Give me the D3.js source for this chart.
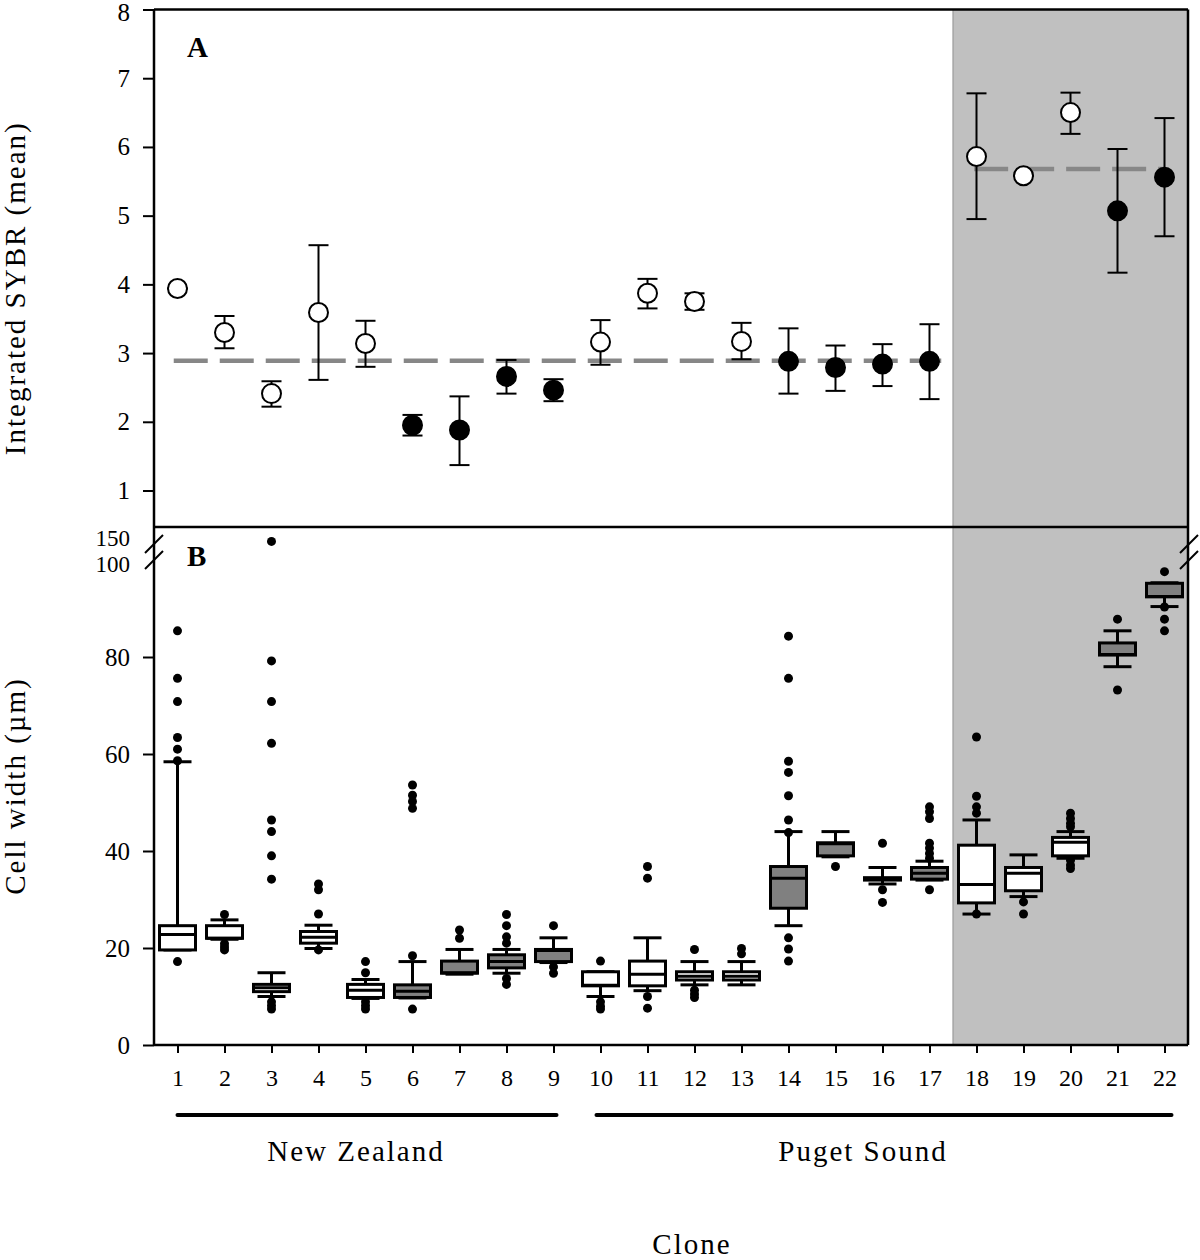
<!DOCTYPE html>
<html>
<head>
<meta charset="utf-8">
<script src="https://cdn.jsdelivr.net/npm/d3@7"></script>
<style>
  html, body { margin: 0; padding: 0; background: #fff; }
  svg { display: block; }
  text { font-family: "Liberation Serif", "Times New Roman", serif; fill: #000; }
</style>
</head>
<body>
<svg id="chart" width="1200" height="1260"></svg>
<script>
// ---------------- DATA ----------------
const clones = d3.range(1, 23);
// marker style per clone: open (white) or filled (black / gray boxes)
const markerType = ["open","open","open","open","open","filled","filled","filled","filled",
  "open","open","open","open","filled","filled","filled","filled","open","open","open","filled","filled"];

// Panel A: integrated SYBR (mean) with error bar limits
const sybrMean  = [3.94,3.30,2.41,3.59,3.14,1.95,1.88,2.66,2.46,3.16,3.87,3.75,3.17,2.88,2.79,2.84,2.88,5.86,5.58,6.50,5.07,5.56];
const sybrUpper = [3.94,3.54,2.59,4.57,3.47,2.10,2.37,2.90,2.62,3.48,4.08,3.87,3.44,3.36,3.11,3.13,3.42,6.78,5.58,6.79,5.97,6.42];
const sybrLower = [3.94,3.07,2.22,2.61,2.80,1.80,1.37,2.41,2.30,2.83,3.65,3.63,2.91,2.41,2.45,2.52,2.33,4.95,5.58,6.19,4.17,4.70];
// group means (dashed lines): value, first and last clone position
const meanLineValue = [2.89, 5.68];
const meanLineFrom  = [0.92, 17.95];
const meanLineTo    = [17.25, 22.0];

// Panel B: cell width box plots
const boxQ1    = [19.6,22.0,11.0,21.0, 9.8, 9.8,14.8,15.9,17.2,12.2,12.2,13.4,13.4,28.2,39.0,34.0,34.2,29.3,31.8,39.0,80.4,92.4];
const boxMed   = [22.8,22.0,11.8,22.2,11.3,11.1,14.9,17.2,19.5,12.3,14.6,14.2,14.2,34.4,41.5,34.3,35.4,33.1,35.4,41.8,80.5,92.5];
const boxQ3    = [24.6,24.6,12.5,23.4,12.5,12.4,17.3,18.6,19.7,15.1,17.3,15.1,15.1,36.8,41.7,34.5,36.6,41.2,36.6,42.8,82.9,95.2];
const whiskLo  = [19.6,21.8,10.0,19.9, 9.6, 9.7,14.6,14.8,17.0,10.0,11.2,12.4,12.4,24.6,38.8,33.2,34.0,27.0,30.6,38.5,78.0,90.4];
const whiskHi  = [58.4,25.8,14.9,24.7,13.5,17.2,19.7,19.7,22.1,15.1,22.1,17.2,17.2,44.0,44.0,36.6,37.9,46.4,39.2,44.0,85.4,95.3];
const outliers = [
  [85.4,75.6,70.8,63.4,61.0,58.6,17.2],
  [26.9,20.9,20.2,19.6],
  [149,79.2,70.8,62.2,46.4,44.0,39.0,34.2,8.9,8.1,7.4],
  [33.2,32.0,27.0,19.6],
  [17.2,14.9,8.9,8.1,7.4],
  [53.6,51.5,50.2,48.8,18.4,7.4],
  [23.7,22.0],
  [26.9,24.6,22.3,21.0,13.7,12.5],
  [24.6,16.1,14.8],
  [17.3,8.9,8.0,7.4],
  [36.8,34.4,10.0,7.6],
  [19.7,11.3,10.5,9.8],
  [19.9,18.8],
  [84.3,75.6,58.5,56.2,51.4,46.4,43.8,22.1,19.8,17.3],
  [36.8],
  [41.6,32.0,29.4],
  [49.1,48.1,46.7,41.6,40.6,39.5,38.5,32.0],
  [63.5,51.3,49.1,47.8,27.0],
  [29.5,27.0],
  [47.8,46.7,45.7,45.0,38.1,37.1,36.4],
  [87.8,73.2],
  [97.6,90.3,87.8,85.4]
];

const ticksA = [1,2,3,4,5,6,7,8];
const ticksB = [0,20,40,60,80,100,150];
const regionNames = ["New Zealand", "Puget Sound"];
const regionFrom = [1, 10];
const regionTo = [9, 22];
const shadeFrom = 17.5;

// ---------------- LAYOUT ----------------
const svg = d3.select("#chart");
const L = 154, R = 1188, TOP = 9.5, MID = 527, BOT = 1045;

const x = d3.scaleLinear().domain([0.5, 22.5]).range([L, R]);
const yA = d3.scaleLinear().domain([0.469, 8]).range([MID, TOP]);
const yB = d3.scaleLinear().domain([0, 100, 150, 185]).range([BOT, 560, 541, MID]);

// shaded region
svg.append("rect")
  .attr("x", x(shadeFrom)).attr("y", TOP)
  .attr("width", R - x(shadeFrom)).attr("height", BOT - TOP)
  .attr("fill", "#c0c0c0");
svg.append("line")
  .attr("x1", x(shadeFrom)).attr("x2", x(shadeFrom))
  .attr("y1", TOP).attr("y2", BOT)
  .attr("stroke", "#9a9a9a").attr("stroke-width", 1.2);

// ---------------- PANEL A ----------------
const axA = svg.append("g").attr("transform", `translate(${L},0)`)
  .call(d3.axisLeft(yA).tickValues(ticksA).tickSize(11).tickPadding(13).tickFormat(d3.format("d")));
axA.select(".domain").remove();
axA.selectAll("line").attr("stroke", "#000").attr("stroke-width", 2);
axA.selectAll("text").attr("font-size", 25).style("font-family", "Liberation Serif");
axA.selectAll(".tick").filter(d => d === 8).select("text").attr("dy", "0.42em");

// mean dashed lines
meanLineValue.forEach((v, i) => {
  svg.append("line")
    .attr("x1", x(meanLineFrom[i])).attr("x2", x(meanLineTo[i]))
    .attr("y1", yA(v)).attr("y2", yA(v))
    .attr("stroke", "#878787").attr("stroke-width", 4.5)
    .attr("stroke-dasharray", "34,12");
});

// error bars
const gA = svg.append("g");
clones.forEach((c, i) => {
  const cx = x(c);
  gA.append("line").attr("x1", cx).attr("x2", cx)
    .attr("y1", yA(sybrUpper[i])).attr("y2", yA(sybrLower[i]))
    .attr("stroke", "#000").attr("stroke-width", 2);
  [sybrUpper[i], sybrLower[i]].forEach(v => {
    gA.append("line").attr("x1", cx - 10).attr("x2", cx + 10)
      .attr("y1", yA(v)).attr("y2", yA(v))
      .attr("stroke", "#000").attr("stroke-width", 2);
  });
});
gA.selectAll("circle.m").data(clones).enter().append("circle")
  .attr("cx", d => x(d)).attr("cy", (d, i) => yA(sybrMean[i]))
  .attr("r", 9.5)
  .attr("fill", (d, i) => markerType[i] === "open" ? "#fff" : "#000")
  .attr("stroke", "#000").attr("stroke-width", 2);

// ---------------- PANEL B ----------------
const axB = svg.append("g").attr("transform", `translate(${L},0)`)
  .call(d3.axisLeft(yB).tickValues(ticksB).tickSize(11).tickPadding(13).tickFormat(d3.format("d")));
axB.select(".domain").remove();
axB.selectAll("line").attr("stroke", "#000").attr("stroke-width", 2);
axB.selectAll(".tick").filter(d => d >= 100).select("line").remove();
axB.selectAll("text").attr("font-size", 25).style("font-family", "Liberation Serif");
axB.selectAll(".tick").filter(d => d === 150).select("text").attr("dy", "0.2em").attr("font-size", 23);
axB.selectAll(".tick").filter(d => d === 100).select("text").attr("dy", "0.48em").attr("font-size", 23);

const axX = svg.append("g").attr("transform", `translate(0,${BOT})`)
  .call(d3.axisBottom(x).tickValues(clones).tickSize(8).tickPadding(16).tickFormat(d3.format("d")));
axX.select(".domain").remove();
axX.selectAll("line").attr("stroke", "#000").attr("stroke-width", 2);
axX.selectAll("text").attr("font-size", 24).style("font-family", "Liberation Serif");

const gB = svg.append("g");
const bw = 36, cw = 28;
clones.forEach((c, i) => {
  const cx = x(c);
  const fill = markerType[i] === "open" ? "#fff" : "#808080";
  // whiskers
  gB.append("line").attr("x1", cx).attr("x2", cx)
    .attr("y1", yB(whiskHi[i])).attr("y2", yB(boxQ3[i]))
    .attr("stroke", "#000").attr("stroke-width", 3);
  gB.append("line").attr("x1", cx).attr("x2", cx)
    .attr("y1", yB(boxQ1[i])).attr("y2", yB(whiskLo[i]))
    .attr("stroke", "#000").attr("stroke-width", 3);
  [whiskHi[i], whiskLo[i]].forEach(v => {
    gB.append("line").attr("x1", cx - cw / 2).attr("x2", cx + cw / 2)
      .attr("y1", yB(v)).attr("y2", yB(v))
      .attr("stroke", "#000").attr("stroke-width", 3);
  });
  // box
  gB.append("rect")
    .attr("x", cx - bw / 2).attr("y", yB(boxQ3[i]))
    .attr("width", bw).attr("height", Math.max(1, yB(boxQ1[i]) - yB(boxQ3[i])))
    .attr("fill", fill).attr("stroke", "#000").attr("stroke-width", 3);
  gB.append("line").attr("x1", cx - bw / 2).attr("x2", cx + bw / 2)
    .attr("y1", yB(boxMed[i])).attr("y2", yB(boxMed[i]))
    .attr("stroke", "#000").attr("stroke-width", 3);
  // outliers
  gB.selectAll(null).data(outliers[i]).enter().append("circle")
    .attr("cx", cx).attr("cy", d => yB(d)).attr("r", 4.5).attr("fill", "#000");
});

// ---------------- FRAME ----------------
const frame = svg.append("g").attr("stroke", "#000").attr("stroke-width", 2.5).attr("fill", "none");
frame.append("line").attr("x1", L).attr("x2", R).attr("y1", TOP).attr("y2", TOP);
frame.append("line").attr("x1", L).attr("x2", R + 1).attr("y1", MID).attr("y2", MID);
frame.append("line").attr("x1", L).attr("x2", L).attr("y1", TOP).attr("y2", BOT);
frame.append("line").attr("x1", R).attr("x2", R).attr("y1", TOP).attr("y2", BOT);
frame.append("line").attr("x1", L).attr("x2", R).attr("y1", BOT).attr("y2", BOT);
// break marks
[L, R + 1].forEach(bx => {
  [0, 16].forEach(off => {
    frame.append("line")
      .attr("x1", bx - 9).attr("y1", 553 + off)
      .attr("x2", bx + 9).attr("y2", 535 + off)
      .attr("stroke-width", 2);
  });
});

// panel letters
svg.append("text").attr("x", 187).attr("y", 57).attr("font-size", 29).attr("font-weight", "bold").text("A");
svg.append("text").attr("x", 187).attr("y", 566).attr("font-size", 29).attr("font-weight", "bold").text("B");

// axis titles
svg.append("text")
  .attr("transform", `translate(25,${(TOP + MID) / 2 + 20}) rotate(-90)`)
  .attr("text-anchor", "middle").attr("font-size", 29).attr("letter-spacing", 2)
  .text("Integrated SYBR (mean)");
svg.append("text")
  .attr("transform", `translate(25,${(MID + BOT) / 2}) rotate(-90)`)
  .attr("text-anchor", "middle").attr("font-size", 29).attr("letter-spacing", 2)
  .text("Cell width (µm)");

// region bars + labels
const regionLabelX = [356, 863];
regionNames.forEach((name, i) => {
  const x1 = i === 0 ? x(regionFrom[i]) : x(regionFrom[i]) - 4;
  const x2 = i === 0 ? x(regionTo[i]) + 3 : x(regionTo[i]) + 7;
  svg.append("line").attr("x1", x1).attr("x2", x2).attr("y1", 1115).attr("y2", 1115)
    .attr("stroke", "#000").attr("stroke-width", 4).attr("stroke-linecap", "round");
  svg.append("text").attr("x", regionLabelX[i]).attr("y", 1161)
    .attr("text-anchor", "middle").attr("font-size", 29).attr("letter-spacing", 2)
    .text(name);
});
svg.append("text").attr("x", 692).attr("y", 1254)
  .attr("text-anchor", "middle").attr("font-size", 29).attr("letter-spacing", 2)
  .text("Clone");
</script>
</body>
</html>
